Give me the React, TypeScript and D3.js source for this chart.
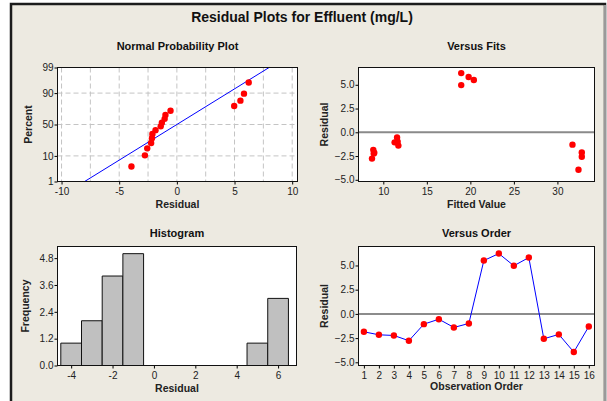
import { useEffect, useRef } from "react";
import * as d3 from "d3";

// residuals (observation 1..16)
const observationOrder = [1, 2, 3, 4, 5, 6, 7, 8, 9, 10, 11, 12, 13, 14, 15, 16];
const residuals = [-1.85, -2.16, -2.23, -2.77, -1.06, -0.55, -1.4, -0.99, 5.51, 6.23, 4.97, 5.82, -2.57, -2.12, -3.94, -1.3];
const fittedValues = [8.85, 8.96, 8.9, 8.7, 11.3, 11.58, 11.73, 11.65, 20.4, 18.95, 18.95, 19.8, 32.8, 32.8, 32.42, 31.73];

// normal probability plot: percent for each sorted residual
const probPercent = [4.3, 10.4, 16.5, 22.6, 28.7, 34.8, 40.9, 47.0, 53.0, 59.1, 65.2, 71.3, 77.4, 83.5, 89.6, 95.7];
const fitLineResidual = [-8.0, 8.0];
const fitLinePercent = [1, 99];

// histogram
const histBinCenters = [-4, -3, -2, -1, 0, 1, 2, 3, 4, 5, 6];
const histCounts = [1, 2, 4, 5, 0, 0, 0, 0, 0, 1, 3];

// ticks
const nppXTicks = [-10, -5, 0, 5, 10];
const nppGridX = [-10, -7.5, -5, -2.5, 0, 2.5, 5, 7.5, 10];
const nppYTicks = [1, 10, 50, 90, 99];
const nppGridY = [10, 50, 90];
const fitsXTicks = [10, 15, 20, 25, 30];
const residTicks = [-5, -2.5, 0, 2.5, 5];
const histXTicks = [-4, -2, 0, 2, 4, 6];
const histYTicks = [0, 1.2, 2.4, 3.6, 4.8];

const FONT = "'Liberation Sans', Arial, sans-serif";

type Box = { l: number; r: number; t: number; b: number };

// inverse normal CDF (Acklam)
function probit(p: number) {
  const a = [-39.69683028665376, 220.9460984245205, -275.9285104469687, 138.357751867269, -30.66479806614716, 2.506628277459239];
  const b = [-54.47609879822406, 161.5858368580409, -155.6989798598866, 66.80131188771972, -13.28068155288572];
  const c = [-0.007784894002430293, -0.3223964580411365, -2.400758277161838, -2.549732539343734, 4.374664141464968, 2.938163982698783];
  const d = [0.007784695709041462, 0.3224671290700398, 2.445134137142996, 3.754408661907416];
  const pl = 0.02425;
  if (p < pl) {
    const q = Math.sqrt(-2 * Math.log(p));
    return (((((c[0] * q + c[1]) * q + c[2]) * q + c[3]) * q + c[4]) * q + c[5]) / ((((d[0] * q + d[1]) * q + d[2]) * q + d[3]) * q + 1);
  }
  if (p > 1 - pl) {
    const q = Math.sqrt(-2 * Math.log(1 - p));
    return -(((((c[0] * q + c[1]) * q + c[2]) * q + c[3]) * q + c[4]) * q + c[5]) / ((((d[0] * q + d[1]) * q + d[2]) * q + d[3]) * q + 1);
  }
  const q = p - 0.5;
  const r = q * q;
  return ((((((a[0] * r + a[1]) * r + a[2]) * r + a[3]) * r + a[4]) * r + a[5]) * q) / (((((b[0] * r + b[1]) * r + b[2]) * r + b[3]) * r + b[4]) * r + 1);
}

const styleAxis = (ax: any) => {
  ax.select(".domain").remove();
  ax.selectAll("line").attr("stroke", "#000");
  ax.selectAll("text").attr("fill", "#222").style("font-family", FONT).style("font-size", "10px");
};

function drawPanel(
  svg: any,
  box: Box,
  x: any,
  y: any,
  xTicks: number[],
  yTicks: number[],
  xFmt: (d: any, i: number) => string,
  yFmt: (d: any, i: number) => string,
  title: string,
  titleY: number,
  xLabel: string,
  xLabelY: number,
  yLabel: string,
  yLabelX: number
) {
  const g = svg.append("g");
  g.append("rect")
    .attr("x", box.l)
    .attr("y", box.t)
    .attr("width", box.r - box.l)
    .attr("height", box.b - box.t)
    .attr("fill", "#fff");

  g.append("g")
    .attr("transform", `translate(0,${box.b})`)
    .call(d3.axisBottom(x).tickValues(xTicks).tickSize(3).tickPadding(3).tickSizeOuter(0).tickFormat(xFmt))
    .call(styleAxis);
  g.append("g")
    .attr("transform", `translate(${box.l},0)`)
    .call(d3.axisLeft(y).tickValues(yTicks).tickSize(3).tickPadding(1).tickSizeOuter(0).tickFormat(yFmt))
    .call(styleAxis);

  g.append("text")
    .attr("x", (box.l + box.r) / 2)
    .attr("y", titleY)
    .attr("text-anchor", "middle")
    .style("font-family", FONT)
    .style("font-size", "11px")
    .style("font-weight", "bold")
    .attr("fill", "#111")
    .text(title);
  g.append("text")
    .attr("x", (box.l + box.r) / 2)
    .attr("y", xLabelY)
    .attr("text-anchor", "middle")
    .style("font-family", FONT)
    .style("font-size", "10.5px")
    .style("font-weight", "bold")
    .attr("fill", "#222")
    .text(xLabel);
  g.append("text")
    .attr("transform", `translate(${yLabelX},${(box.t + box.b) / 2}) rotate(-90)`)
    .attr("text-anchor", "middle")
    .style("font-family", FONT)
    .style("font-size", "10.5px")
    .style("font-weight", "bold")
    .attr("fill", "#222")
    .text(yLabel);
  return g;
}

const outline = (g: any, box: Box) =>
  g.append("rect")
    .attr("x", box.l)
    .attr("y", box.t)
    .attr("width", box.r - box.l)
    .attr("height", box.b - box.t)
    .attr("fill", "none")
    .attr("stroke", "#111")
    .attr("stroke-width", 1);

const fmt1 = (d: any) => d3.format(".1f")(d);

export default function App() {
  const svgRef = useRef<SVGSVGElement | null>(null);

  useEffect(() => {
    if (!svgRef.current) return;
    const svg = d3.select(svgRef.current);
    svg.selectAll("*").remove();

    // window frame
    svg.append("rect").attr("width", 607).attr("height", 401).attr("fill", "#fff");
    svg.append("rect")
      .attr("x", 11).attr("y", 4).attr("width", 594).attr("height", 420)
      .attr("fill", "#edeae1").attr("stroke", "#1c1c1c").attr("stroke-width", 2.5);
    svg.append("line").attr("x1", 605).attr("x2", 605).attr("y1", 5).attr("y2", 401)
      .attr("stroke", "#9a9a9a").attr("stroke-width", 2);

    svg.append("text")
      .attr("x", 302).attr("y", 22).attr("text-anchor", "middle")
      .style("font-family", FONT).style("font-size", "14px").style("font-weight", "bold")
      .attr("fill", "#111")
      .text("Residual Plots for Effluent (mg/L)");

    // ---- Normal probability plot
    const nppBox = { l: 57.5, r: 297.5, t: 67.5, b: 181.5 };
    const nx = d3.scaleLinear().domain([-10.35, 10.46]).range([nppBox.l, nppBox.r]);
    const nz = d3.scaleLinear().domain([probit(0.01), probit(0.99)]).range([nppBox.b, nppBox.t]);
    const g1 = drawPanel(
      svg, nppBox, nx, nz, nppXTicks, nppYTicks.map((p) => probit(p / 100)),
      (d) => String(d), (_d, i) => String(nppYTicks[i]),
      "Normal Probability Plot", 50, "Residual", 208, "Percent", 32
    );
    const grid = g1.append("g").attr("stroke", "#c4c4c4").attr("stroke-dasharray", "5,3");
    grid.selectAll("line.gx").data(nppGridX).join("line")
      .attr("x1", (d: number) => nx(d)).attr("x2", (d: number) => nx(d))
      .attr("y1", nppBox.t).attr("y2", nppBox.b);
    grid.selectAll("line.gy").data(nppGridY).join("line")
      .attr("y1", (d: number) => nz(probit(d / 100))).attr("y2", (d: number) => nz(probit(d / 100)))
      .attr("x1", nppBox.l).attr("x2", nppBox.r);
    g1.append("path")
      .datum(fitLineResidual.map((r, i) => [r, probit(fitLinePercent[i] / 100)]))
      .attr("d", d3.line().x((d: any) => nx(d[0])).y((d: any) => nz(d[1])))
      .attr("stroke", "#0000ff").attr("stroke-width", 1).attr("fill", "none");
    const sorted = residuals.slice().sort((a, b) => a - b);
    g1.selectAll("circle").data(sorted).join("circle")
      .attr("cx", (d: number) => nx(d))
      .attr("cy", (_d: number, i: number) => nz(probit(probPercent[i] / 100)))
      .attr("r", 3.2).attr("fill", "#ff0000");
    outline(g1, nppBox);

    // ---- Versus fits
    const fitsBox = { l: 358.5, r: 594.5, t: 67.5, b: 181.5 };
    const fx = d3.scaleLinear().domain([7.15, 34.26]).range([fitsBox.l, fitsBox.r]);
    const fy = d3.scaleLinear().domain([-5.18, 6.82]).range([fitsBox.b, fitsBox.t]);
    const g2 = drawPanel(
      svg, fitsBox, fx, fy, fitsXTicks, residTicks, (d) => String(d), fmt1,
      "Versus Fits", 50, "Fitted Value", 208, "Residual", 327.5
    );
    g2.append("line")
      .attr("x1", fitsBox.l).attr("x2", fitsBox.r).attr("y1", fy(0)).attr("y2", fy(0))
      .attr("stroke", "#8a8a8a").attr("stroke-width", 2);
    g2.selectAll("circle").data(residuals).join("circle")
      .attr("cx", (_d: number, i: number) => fx(fittedValues[i]))
      .attr("cy", (d: number) => fy(d))
      .attr("r", 3.2).attr("fill", "#ff0000");
    outline(g2, fitsBox);

    // ---- Histogram
    const histBox = { l: 57.5, r: 296.5, t: 246.5, b: 365.5 };
    const hx = d3.scaleLinear().domain([-4.66, 6.89]).range([histBox.l, histBox.r]);
    const hy = d3.scaleLinear().domain([0, 5.32]).range([histBox.b, histBox.t]);
    const g3 = drawPanel(
      svg, histBox, hx, hy, histXTicks, histYTicks, (d) => String(d), fmt1,
      "Histogram", 237, "Residual", 391.5, "Frequency", 29
    );
    g3.selectAll("path.bar").data(histBinCenters).join("path")
      .attr("class", "bar")
      .attr("d", (d: number, i: number) => {
        const x0 = hx(d - 0.5), x1 = hx(d + 0.5);
        const y0 = hy(0), y1 = hy(histCounts[i]);
        return `M${x0},${y0}V${y1}H${x1}V${y0}Z`;
      })
      .attr("fill", "#c0c0c0")
      .attr("stroke", (_d: number, i: number) => (histCounts[i] > 0 ? "#111" : "#999"))
      .attr("stroke-width", 1);
    outline(g3, histBox);

    // ---- Versus order
    const ordBox = { l: 358.5, r: 594.5, t: 246.5, b: 365.5 };
    const ox = d3.scaleLinear().domain([0.64, 16.38]).range([ordBox.l, ordBox.r]);
    const oy = d3.scaleLinear().domain([-5.33, 6.96]).range([ordBox.b, ordBox.t]);
    const g4 = drawPanel(
      svg, ordBox, ox, oy, observationOrder, residTicks, (d) => String(d), fmt1,
      "Versus Order", 237, "Observation Order", 390, "Residual", 327.5
    );
    g4.append("line")
      .attr("x1", ordBox.l).attr("x2", ordBox.r).attr("y1", oy(0)).attr("y2", oy(0))
      .attr("stroke", "#666").attr("stroke-width", 1.5);
    g4.append("path")
      .datum(residuals)
      .attr("d", d3.line<number>().x((_d, i) => ox(observationOrder[i])).y((d) => oy(d)))
      .attr("stroke", "#0000ff").attr("stroke-width", 1).attr("fill", "none");
    g4.selectAll("circle").data(residuals).join("circle")
      .attr("cx", (_d: number, i: number) => ox(observationOrder[i]))
      .attr("cy", (d: number) => oy(d))
      .attr("r", 3.2).attr("fill", "#ff0000");
    outline(g4, ordBox);
  }, []);

  return (
    <svg
      ref={svgRef}
      width={607}
      height={401}
      style={{ position: "absolute", left: 0, top: 0, display: "block" }}
    />
  );
}
